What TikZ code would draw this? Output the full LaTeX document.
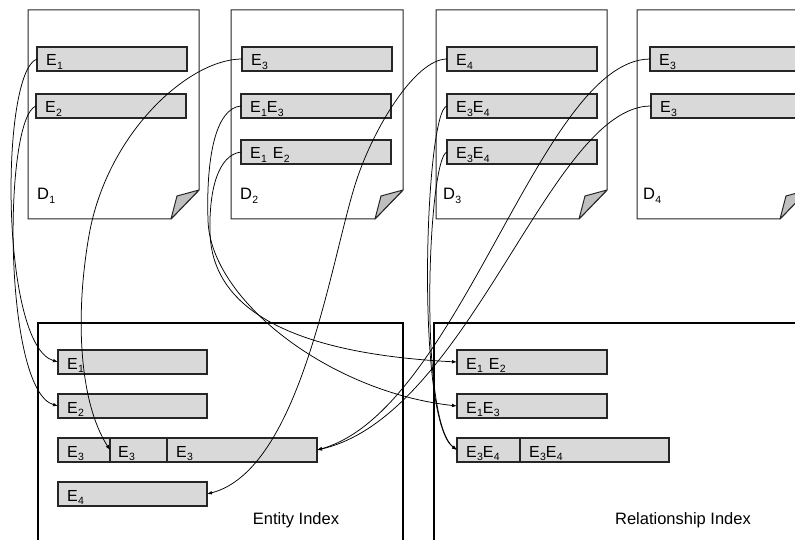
\documentclass[tikz,border=0pt]{standalone}
\usepackage{fontspec}
\setmainfont{Liberation Sans}
\usetikzlibrary{arrows.meta}
\newcommand\Esub[2]{#1\kern0.2pt\raisebox{-3.6pt}{\fontsize{10.5}{10.5}\selectfont #2}}
\newcommand\docpage[2]{%
  \draw[doc] (#1,10) -- (#2,10) -- (#2,190) -- ({#2-28},219) -- (#1,219) -- cycle;
  \draw[flap] ({#2-28},219) -- ({#2-22},196) -- (#2,190) -- cycle;}
\begin{document}
\begin{tikzpicture}[x=1pt,y=-1pt,
  bar/.style={draw=black!85, line width=1.1pt, fill=black!15, minimum height=24pt,
              minimum width=#1, inner sep=0pt, outer sep=0pt, anchor=north west},
  bar/.default=150pt,
  lbl/.style={anchor=base west, inner sep=0pt, font=\fontsize{16}{19}\selectfont},
  dlbl/.style={anchor=base west, inner sep=0pt, font=\fontsize{16.5}{19}\selectfont},
  ttl/.style={anchor=base, inner sep=0pt, font=\fontsize{16.5}{20}\selectfont},
  doc/.style={draw=black!85, line width=1pt, fill=white},
  flap/.style={draw=black!85, line width=1pt, fill=black!25, line join=round},
  idx/.style={draw=black, line width=1.8pt, anchor=north west, inner sep=0pt,
              minimum width=#1, minimum height=260pt},
  conn/.style={draw=black, line width=0.75pt},
  arr/.style={conn, -{Latex[length=5pt,width=3.6pt]}}
]
\path[use as bounding box, clip] (0,0) rectangle (795,540);

% documents
\docpage{28}{199}
\docpage{231}{403}
\docpage{436}{607}
\docpage{637}{808}

% document labels
\node[dlbl] (dl1) at (37,200) {\Esub D1};
\node[dlbl] (dl2) at (240,200) {\Esub D2};
\node[dlbl] (dl3) at (443,200) {\Esub D3};
\node[dlbl] (dl4) at (643,200) {\Esub D4};

% bars in documents
\node[bar] (d1e1) at (37,47) {};
\node[bar] (d1e2) at (36,94) {};
\node[bar] (d2e3) at (242,47) {};
\node[bar] (d2e13) at (241,94) {};
\node[bar] (d2e12) at (241,140) {};
\node[bar] (d3e4) at (447,47) {};
\node[bar] (d3e34a) at (447,94) {};
\node[bar] (d3e34b) at (447,140) {};
\node[bar] (d4e3a) at (650,47) {};
\node[bar] (d4e3b) at (651,94) {};

\node[lbl] (t-d1e1) at ([shift={(9,7)}]d1e1.west) {\Esub E1};
\node[lbl] (t-d1e2) at ([shift={(9,7)}]d1e2.west) {\Esub E2};
\node[lbl] (t-d2e3) at ([shift={(9,7)}]d2e3.west) {\Esub E3};
\node[lbl] (t-d2e13) at ([shift={(9,7)}]d2e13.west) {\Esub E1\Esub E3};
\node[lbl] (t-d2e12) at ([shift={(9,7)}]d2e12.west) {\Esub E1\hspace{6pt}\Esub E2};
\node[lbl] (t-d3e4) at ([shift={(9,7)}]d3e4.west) {\Esub E4};
\node[lbl] (t-d3e34a) at ([shift={(9,7)}]d3e34a.west) {\Esub E3\Esub E4};
\node[lbl] (t-d3e34b) at ([shift={(9,7)}]d3e34b.west) {\Esub E3\Esub E4};
\node[lbl] (t-d4e3a) at ([shift={(9,7)}]d4e3a.west) {\Esub E3};
\node[lbl] (t-d4e3b) at ([shift={(9,7)}]d4e3b.west) {\Esub E3};

% index boxes
\node[idx=365pt] (eidx) at (37,322) {};
\node[idx=400pt] (ridx) at (433,322) {};
\node[ttl] (eidxt) at (296,524) {Entity Index};
\node[ttl] (ridxt) at (683,524) {Relationship Index};

% entity index rows
\node[bar=149pt] (ie1) at (58,350) {};
\node[bar=149pt] (ie2) at (58,394) {};
\node[bar=52pt] (ie3a) at (58,438) {};
\node[bar=57pt] (ie3b) at (110,438) {};
\node[bar=150pt] (ie3c) at (167,438) {};
\node[bar=149pt] (ie4) at (58,482) {};
\node[lbl] (t-ie1) at ([shift={(9,7)}]ie1.west) {\Esub E1};
\node[lbl] (t-ie2) at ([shift={(9,7)}]ie2.west) {\Esub E2};
\node[lbl] (t-ie3a) at ([shift={(9,7)}]ie3a.west) {\Esub E3};
\node[lbl] (t-ie3b) at ([shift={(8,7)}]ie3b.west) {\Esub E3};
\node[lbl] (t-ie3c) at ([shift={(9,7)}]ie3c.west) {\Esub E3};
\node[lbl] (t-ie4) at ([shift={(9,7)}]ie4.west) {\Esub E4};

% relationship index rows
\node[bar=150pt] (r12) at (457,350) {};
\node[bar=150pt] (r13) at (457,394) {};
\node[bar=63pt] (r34a) at (457,438) {};
\node[bar=149pt] (r34b) at (520,438) {};
\node[lbl] (t-r12) at ([shift={(9,7)}]r12.west) {\Esub E1\hspace{6pt}\Esub E2};
\node[lbl] (t-r13) at ([shift={(9,7)}]r13.west) {\Esub E1\Esub E3};
\node[lbl] (t-r34a) at ([shift={(9,7)}]r34a.west) {\Esub E3\Esub E4};
\node[lbl] (t-r34b) at ([shift={(9,7)}]r34b.west) {\Esub E3\Esub E4};

% connectors
\draw[arr] (d1e1.west) .. controls (0,72) and (0,345) .. (ie1.west);
\draw[arr] (d1e2.west) .. controls (3,118) and (3,390) .. (ie2.west);
\draw[arr] (d2e3.west) .. controls (190,59) and (110,130) .. (90,230)
           .. controls (75,310) and (78,400) .. (ie3b.west);
\draw[arr] (d3e4.west) .. controls (415,59) and (372,130) .. (355,185)
           .. controls (330,265) and (300,470) .. (ie4.east);
\draw[arr] (d4e3a.west) .. controls (540,60) and (460,410) .. (ie3c.east);
\draw[arr] (d4e3b.west) .. controls (550,106) and (470,415) .. (ie3c.east);
\draw[arr] (d2e13.west) .. controls (215,108) and (206,160) .. (208,220)
           .. controls (210,300) and (330,392) .. (r13.west);
\draw[arr] (d2e12.west) .. controls (218,155) and (209,190) .. (210,232)
           .. controls (212,330) and (340,356) .. (r12.west);
\draw[arr] (d3e34a.west) .. controls (425,110) and (415,420) .. (r34a.west);
\draw[arr] (d3e34b.west) .. controls (428,157) and (418,420) .. (r34a.west);
\end{tikzpicture}
\end{document}
